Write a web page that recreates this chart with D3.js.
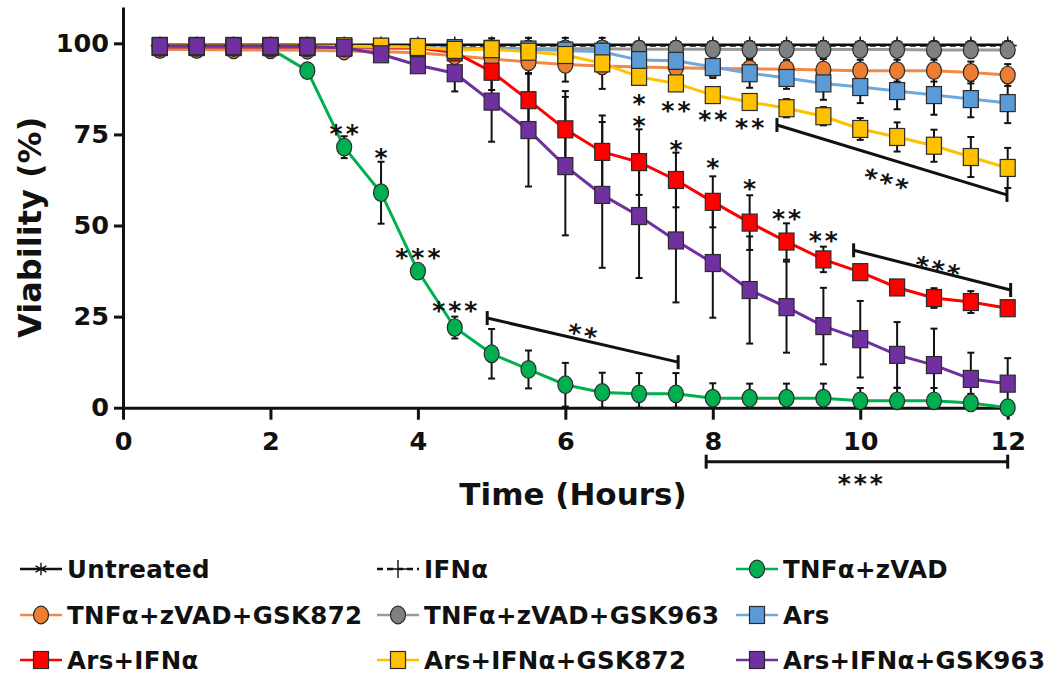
<!DOCTYPE html>
<html lang="en">
<head>
<meta charset="UTF-8">
<script src="https://d3js.org/d3.v7.min.js"></script>
<title>Viability</title>
<style>
    body { margin: 0; overflow: hidden; background: white; }
    svg { background-color: white; }
    text { font-family: Verdana, "DejaVu Sans", sans-serif; }
</style>
</head>
<body>
<script>
// ---- data ----
const hours = [0.5, 1, 1.5, 2, 2.5, 3, 3.5, 4, 4.5, 5, 5.5, 6, 6.5, 7, 7.5, 8, 8.5, 9, 9.5, 10, 10.5, 11, 11.5, 12];

const seriesNames = ["Untreated", "IFNα", "TNFα+zVAD", "TNFα+zVAD+GSK872", "TNFα+zVAD+GSK963",
                     "Ars", "Ars+IFNα", "Ars+IFNα+GSK872", "Ars+IFNα+GSK963"];

const untreated = [99.6, 99.6, 99.6, 99.6, 99.6, 99.6, 99.6, 99.6, 99.6, 99.6, 99.6, 99.6, 99.6, 99.6, 99.6, 99.6, 99.6, 99.6, 99.6, 99.6, 99.6, 99.6, 99.6, 99.6];
const ifna = [99.4, 99.4, 99.4, 99.4, 99.4, 99.4, 99.4, 99.4, 99.4, 99.4, 99.4, 99.4, 99.4, 99.4, 99.4, 99.4, 99.4, 99.4, 99.4, 99.4, 99.4, 99.4, 99.4, 99.4];
const tnfZvad = [99, 99, 99, 98.5, 92.5, 71.5, 59, 37.5, 22, 14.8, 10.5, 6.3, 4.2, 3.8, 3.8, 2.6, 2.6, 2.6, 2.6, 1.9, 1.9, 1.9, 1.3, 0];
const tnfZvad872 = [98.3, 98.3, 98.2, 98.2, 98.1, 97.9, 97.7, 97.4, 96.6, 95.7, 94.9, 94.2, 93.8, 93.5, 93.3, 93.1, 93, 92.9, 92.7, 92.5, 92.5, 92.5, 92, 91.3];
const tnfZvad963 = [98.8, 98.8, 98.8, 98.7, 98.7, 98.7, 98.6, 98.6, 98.6, 98.6, 98.5, 98.5, 98.5, 98.4, 98.4, 98.4, 98.3, 98.3, 98.3, 98.3, 98.3, 98.2, 98.2, 98.2];
const ars = [99, 99, 99, 99, 99, 99, 98.9, 98.8, 98.7, 98.5, 98.3, 98, 97.7, 95.4, 95.2, 93.5, 91.8, 90.5, 89, 88, 86.9, 85.8, 84.7, 83.6];
const arsIfna = [99, 99, 99, 99, 99, 99, 99, 98.8, 97.5, 92.2, 84.4, 76.4, 70.2, 67.4, 62.5, 56.5, 50.8, 45.6, 40.7, 37.2, 33, 30.1, 29, 27.3];
const arsIfna872 = [99.3, 99.3, 99.3, 99.3, 99.3, 99.2, 99.1, 99, 98.2, 98.4, 97.7, 96.8, 94.5, 90.8, 89, 85.8, 83.9, 82.2, 80, 76.5, 74.3, 71.9, 68.8, 65.8];
const arsIfna963 = [99.2, 99.2, 99.2, 99.2, 99.1, 98.8, 97, 94, 91.8, 84, 76.2, 66.3, 58.4, 52.6, 45.9, 39.7, 32.3, 27.6, 22.4, 18.8, 14.5, 11.7, 7.9, 6.6];

// error bars (SD)
const untreatedSd = [1, 1, 1, 1, 1, 1, 1, 1, 1, 1, 1, 1, 1, 1, 1, 1, 1, 1, 1, 1, 1, 1, 1, 1];
const ifnaSd = [1, 1, 1, 1, 1, 1, 1, 1, 1, 1, 1, 1, 1, 1, 1, 1, 1, 1, 1, 1, 1, 1, 1, 1];
const tnfZvadSd = [0.5, 0.5, 0.5, 1, 2, 3, 8.5, 1.5, 3, 6.8, 5.2, 6, 5.4, 5.7, 5.7, 4.1, 4, 4, 4, 3.5, 3.5, 3.5, 2.5, 1.5];
const tnfZvad872Sd = [1, 1, 1, 1, 1, 1, 1, 1, 1.5, 1.5, 2, 2, 2, 2, 2, 2, 2.5, 2.5, 3, 3, 3, 3, 3, 3];
const tnfZvad963Sd = [1.2, 1.2, 1.2, 1.2, 1.2, 1.2, 1.2, 1.2, 1.2, 1.2, 1.2, 1.2, 1.2, 1.2, 1.2, 1.2, 1.2, 1.2, 1.2, 1.2, 1.2, 1.2, 1.2, 1.2];
const arsSd = [0.5, 0.5, 0.5, 0.5, 0.5, 0.5, 1, 1, 1, 1, 1.5, 1.5, 2, 2.5, 3, 3, 4, 3, 4.5, 4.4, 5, 5.4, 5, 5.5];
const arsIfnaSd = [0.5, 0.5, 0.5, 0.5, 0.5, 0.5, 0.5, 1, 1.5, 5, 7.4, 10.5, 10, 9, 7.5, 7, 7.5, 5, 3.5, 1.5, 1.5, 2.7, 3, 1.5];
const arsIfna872Sd = [0.5, 0.5, 0.5, 0.5, 0.5, 1, 1, 1.5, 2, 3, 6, 7.3, 7, 1.5, 1.5, 1.5, 2, 2.5, 2.5, 3, 4, 4.4, 5.5, 5.5];
const arsIfna963Sd = [0.5, 0.5, 0.5, 0.5, 0.5, 1, 1.5, 2, 5, 11, 15.5, 19, 20, 17, 17, 15, 14.7, 12.5, 10.5, 10.5, 9, 10, 7.2, 7];

const seriesValues = [untreated, ifna, tnfZvad, tnfZvad872, tnfZvad963, ars, arsIfna, arsIfna872, arsIfna963];
const seriesSd = [untreatedSd, ifnaSd, tnfZvadSd, tnfZvad872Sd, tnfZvad963Sd, arsSd, arsIfnaSd, arsIfna872Sd, arsIfna963Sd];

const xTicks = [0, 2, 4, 6, 8, 10, 12];
const yTicks = [0, 25, 50, 75, 100];

// significance marks: [hours, viability, label]
const sigMarks = [
    [3.0, 76.8, "**"], [3.5, 70.2, "*"], [4.0, 42.6, "***"], [4.5, 28.2, "***"],
    [7.5, 83.0, "**"], [8.0, 80.6, "**"], [8.5, 78.5, "**"],
    [7.5, 72.3, "*"], [8.0, 67.4, "*"], [8.5, 61.6, "*"],
    [9.0, 53.5, "**"], [9.5, 47.4, "**"]
];
// stacked pair of marks at one time point: [hours, upper viability, lower viability, label]
const sigStack = [[7.0, 85.0, 78.9, "*"]];
// brackets: [h1, v1, h2, v2, label, label h, label v]
const brackets = [
    [4.94, 24.6, 7.53, 12.5, "**", 6.24, 21.3],
    [8.87, 77.6, 11.99, 58.4, "***", 10.36, 63.0],
    [9.91, 43.2, 12.04, 32.3, "***", 11.06, 39.2],
    [7.91, -14.8, 12.0, -14.8, "***", 10.0, -19.3]
];

// ---- styles ----
const styles = [
    { shape: "asterisk", fill: "#000", line: "#111", dash: null },
    { shape: "plus", fill: "#000", line: "#111", dash: "6,4" },
    { shape: "circle", fill: "#00b050", line: "#00b050", dash: null },
    { shape: "circle", fill: "#ed7d31", line: "#f08a48", dash: null },
    { shape: "circle", fill: "#808080", line: "#9a9a9a", dash: null },
    { shape: "square", fill: "#5b9bd5", line: "#6ea8dc", dash: null },
    { shape: "square", fill: "#ff0000", line: "#ff0000", dash: null },
    { shape: "square", fill: "#ffc000", line: "#ffc000", dash: null },
    { shape: "square", fill: "#7030a0", line: "#7030a0", dash: null }
];

const series = seriesNames.map((name, i) => ({
    name,
    style: styles[i],
    points: hours.map((h, j) => ({ h, v: seriesValues[i][j], sd: seriesSd[i][j] }))
}));

const width = 1048, height = 676;
const svg = d3.select("body").append("svg")
    .attr("width", width)
    .attr("height", height);

const x = d3.scaleLinear().domain([0, 12]).range([123, 1007.7]);
const y = d3.scaleLinear().domain([0, 110]).range([407.7, 6.9]);

function drawMarker(g, st, cx, cy) {
    if (st.shape === "circle") {
        g.append("ellipse")
            .attr("cx", cx).attr("cy", cy)
            .attr("rx", 7.5).attr("ry", 8.8)
            .attr("fill", st.fill).attr("stroke", "#2b2b2b").attr("stroke-width", 1.2);
    } else if (st.shape === "square") {
        g.append("rect")
            .attr("x", cx - 7.5).attr("y", cy - 8.5)
            .attr("width", 15).attr("height", 17)
            .attr("fill", st.fill).attr("stroke", "#2b2b2b").attr("stroke-width", 1.2);
    } else {
        const sym = st.shape === "asterisk" ? d3.symbolAsterisk : d3.symbolPlus;
        g.append("path")
            .attr("transform", `translate(${cx},${cy})`)
            .attr("d", d3.symbol(sym, 110)())
            .attr("fill", "none").attr("stroke", "#111").attr("stroke-width", 1.4);
    }
}

// ---- axes ----
const yAxis = svg.append("g")
    .attr("transform", `translate(${x(0)},0)`)
    .call(d3.axisLeft(y).tickValues(yTicks).tickSize(9).tickSizeOuter(0).tickPadding(5));

const xAxis = svg.append("g")
    .attr("transform", `translate(0,${y(0)})`)
    .call(d3.axisBottom(x).tickValues(xTicks).tickSize(12).tickSizeOuter(0).tickPadding(12));

[xAxis, yAxis].forEach(a => {
    a.select(".domain").attr("stroke", "#111").attr("stroke-width", 3);
    a.selectAll(".tick line").attr("stroke", "#111").attr("stroke-width", 3);
    a.selectAll(".tick text")
        .attr("fill", "#111")
        .style("font-size", "25.5px")
        .style("font-weight", "bold")
        .style("font-family", 'Verdana, "DejaVu Sans", sans-serif');
});

svg.append("text")
    .attr("transform", `translate(41,${y(49.5)}) rotate(-90)`)
    .attr("text-anchor", "middle")
    .style("font-size", "32px")
    .style("font-weight", "bold")
    .attr("fill", "#111")
    .text("Viability (%)");

svg.append("text")
    .attr("x", 573)
    .attr("y", 505)
    .attr("text-anchor", "middle")
    .style("font-size", "31px")
    .style("font-weight", "bold")
    .attr("fill", "#111")
    .text("Time (Hours)");

// ---- lines ----
const line = d3.line().x(d => x(d.h)).y(d => y(d.v));

svg.append("g").selectAll("path")
    .data(series)
    .join("path")
    .attr("d", d => line(d.points))
    .attr("fill", "none")
    .attr("stroke", d => d.style.line)
    .attr("stroke-width", d => d.style.shape === "square" || d.style.shape === "circle" ? 3 : 2.5)
    .attr("stroke-dasharray", d => d.style.dash);

// ---- error bars (upper whiskers stop just above 100 %, as in the figure) ----
const errG = svg.append("g").attr("stroke", "#111").attr("stroke-width", 2);
series.forEach(s => {
    s.points.forEach(p => {
        const cx = x(p.h), top = y(Math.min(101.5, p.v + p.sd)), bot = y(Math.max(0, p.v - p.sd));
        errG.append("line").attr("x1", cx).attr("x2", cx).attr("y1", top).attr("y2", bot);
        errG.append("line").attr("x1", cx - 3.5).attr("x2", cx + 3.5).attr("y1", top).attr("y2", top);
        errG.append("line").attr("x1", cx - 3.5).attr("x2", cx + 3.5).attr("y1", bot).attr("y2", bot);
    });
});

// ---- markers ----
const markG = svg.append("g");
series.forEach(s => {
    s.points.forEach(p => drawMarker(markG, s.style, x(p.h), y(p.v)));
});

// ---- significance ----
const sigStyle = sel => sel
    .attr("text-anchor", "middle")
    .style("font-size", "25px")
    .style("font-weight", "bold")
    .style("letter-spacing", "3px")
    .attr("fill", "#111");

svg.append("g").selectAll("text")
    .data(sigMarks)
    .join("text")
    .attr("x", d => x(d[0]) + 1.5)
    .attr("y", d => y(d[1]))
    .attr("dy", "0.56em")
    .call(sigStyle)
    .text(d => d[2]);

sigStack.forEach(d => {
    const t = svg.append("text").call(sigStyle);
    t.append("tspan").attr("x", x(d[0]) + 1.5).attr("y", y(d[1])).attr("dy", "0.56em").text(d[3]);
    t.append("tspan").attr("x", x(d[0]) + 1.5).attr("y", y(d[2])).attr("dy", "0.56em").text(d[3]);
});

brackets.forEach(b => {
    const x1 = x(b[0]), y1 = y(b[1]), x2 = x(b[2]), y2 = y(b[3]);
    const g = svg.append("g").attr("stroke", "#111").attr("stroke-width", 3);
    g.append("line").attr("x1", x1).attr("y1", y1).attr("x2", x2).attr("y2", y2);
    g.append("line").attr("x1", x1).attr("y1", y1 - 7).attr("x2", x1).attr("y2", y1 + 7);
    g.append("line").attr("x1", x2).attr("y1", y2 - 7).attr("x2", x2).attr("y2", y2 + 7);
    const ang = Math.atan2(y2 - y1, x2 - x1) * 180 / Math.PI;
    svg.append("text")
        .attr("transform", `translate(${x(b[5]) + 1.5},${y(b[6])}) rotate(${ang})`)
        .attr("dy", "0.56em")
        .call(sigStyle)
        .text(b[4]);
});

// ---- legend ----
const colX = [20, 377, 736];
const rowY = [569, 615, 660];
const legend = svg.append("g");
series.forEach((s, i) => {
    const lx = colX[i % 3], ly = rowY[Math.floor(i / 3)];
    const g = legend.append("g");
    g.append("line")
        .attr("x1", lx).attr("x2", lx + 42)
        .attr("y1", ly).attr("y2", ly)
        .attr("stroke", s.style.line)
        .attr("stroke-width", 2.5)
        .attr("stroke-dasharray", s.style.dash);
    drawMarker(g, s.style, lx + 21, ly);
    g.append("text")
        .attr("x", lx + 47)
        .attr("y", ly)
        .attr("dy", "0.36em")
        .style("font-size", "24.5px")
        .style("font-weight", "bold")
        .style("letter-spacing", "0.3px")
        .attr("fill", "#111")
        .text(s.name);
});
</script>
</body>
</html>
